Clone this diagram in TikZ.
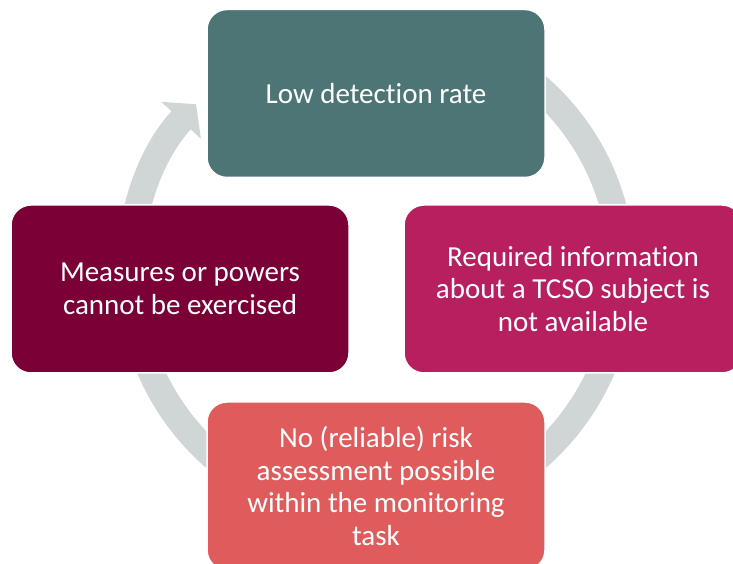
\documentclass[tikz,border=0pt]{standalone}
\usepackage{fontspec}
\setmainfont[Ligatures={NoCommon,NoRequired,NoContextual},RawFeature={-liga;-clig;-dlig}]{Carlito}
\usepackage{xcolor}
\usepackage{tikz}
\usetikzlibrary{arrows.meta,positioning}

\definecolor{tealgrey}{HTML}{4E7576}
\definecolor{berry}{HTML}{B81F5F}
\definecolor{wine}{HTML}{7A0036}
\definecolor{coral}{HTML}{E05C5C}
\definecolor{ringgrey}{HTML}{D0D6D6}

\tikzset{
  stage/.style={draw=white, line width=1.5pt, rounded corners=20pt,
    minimum width=338pt, minimum height=168pt, text=white, align=center,
    font=\fontsize{29}{32.5}\selectfont},
  cycle/.style={draw=ringgrey, line width=26.5pt,
    -{Triangle[length=22pt,width=53pt]}}
}

\begin{document}
\begin{tikzpicture}[x=1pt,y=1pt]
  \useasboundingbox (0,0) rectangle (733,564);
  \clip (0,0) rectangle (733,564);

  % ring behind the boxes
  \coordinate (hub) at (376,292);
  \draw [cycle] (hub) ++(100:246) arc[start angle=100, end angle=-223, radius=246];

  % Define nodes
  \node[stage, fill=tealgrey] (detect) at (376,470.5) {Low detection rate};

  \node[stage, fill=berry] (info) at (573,275)
    {Required information\\about a TCSO subject is\\not available};

  \node[stage, fill=coral] (risk) at (376,78)
    {No (reliable) risk\\assessment possible\\within the monitoring\\task};

  \node[stage, fill=wine] (powers) at (180,275)
    {Measures or powers\\cannot be exercised};

\end{tikzpicture}
\end{document}
